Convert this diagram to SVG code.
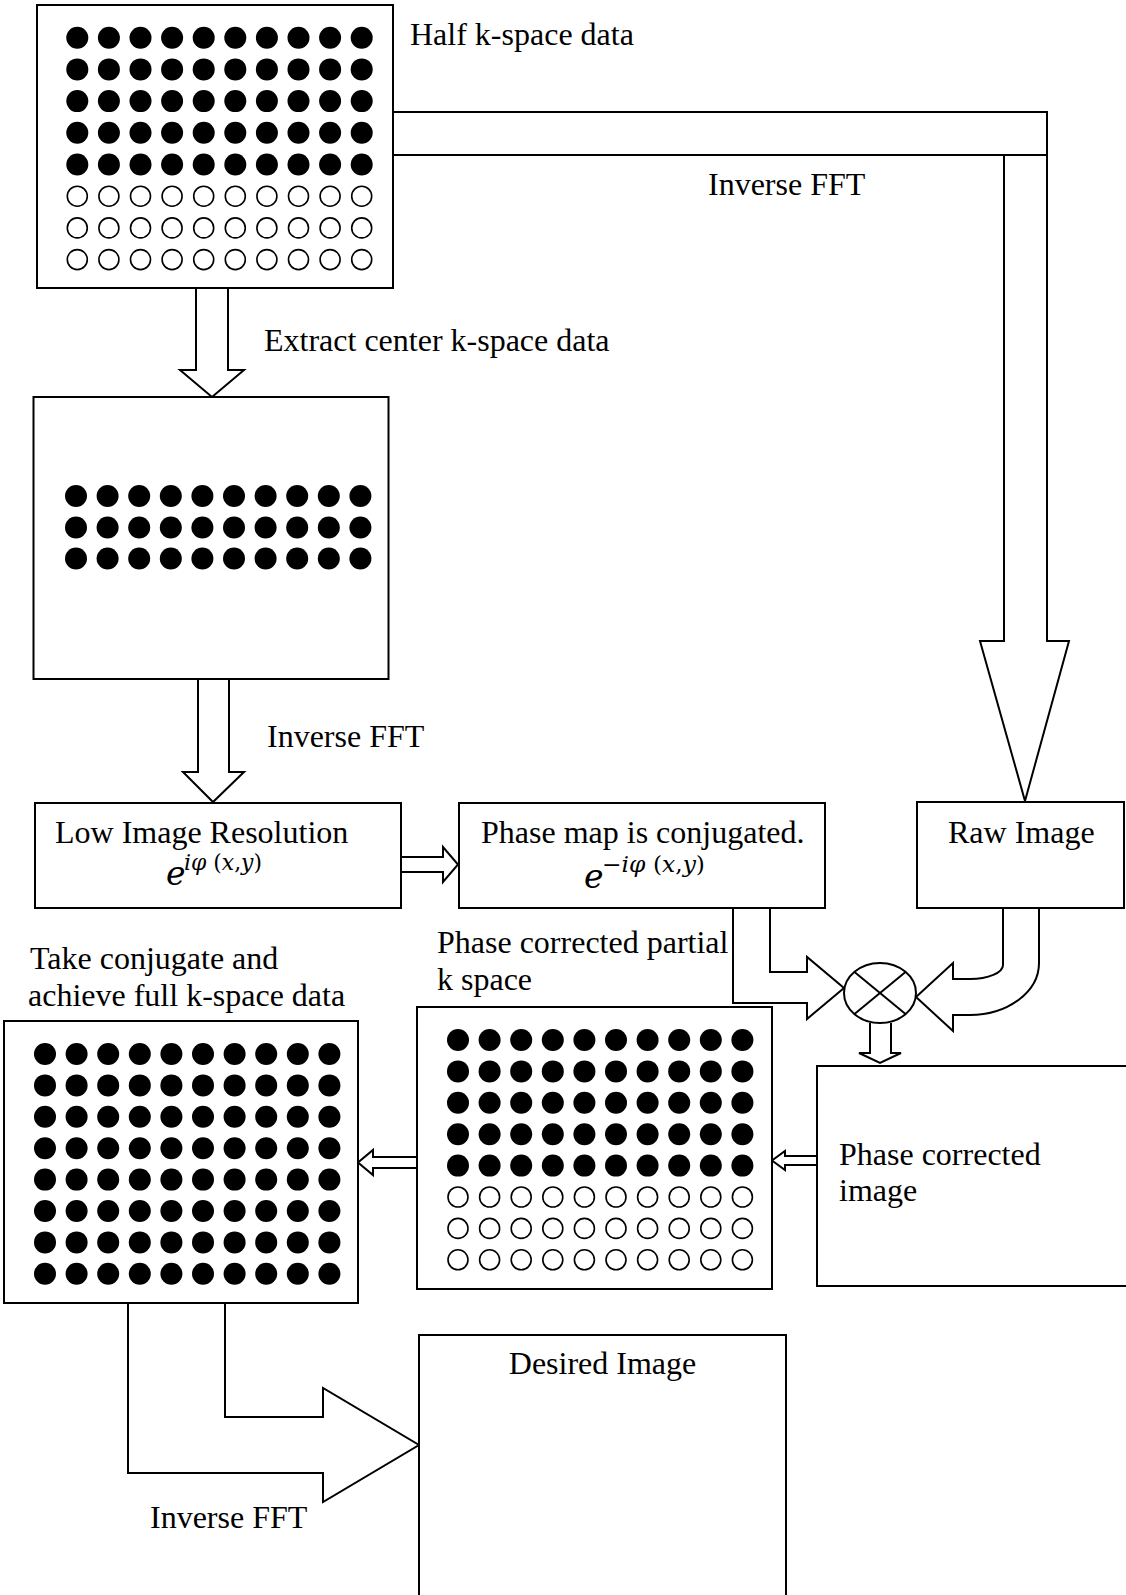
<svg xmlns="http://www.w3.org/2000/svg" xmlns:xlink="http://www.w3.org/1999/xlink" width="1126" height="1595" viewBox="0 0 1126 1595">
<style>
.box{fill:#fff;stroke:#000;stroke-width:2}
.arr{fill:#fff;stroke:#000;stroke-width:2;stroke-linejoin:miter}
.ln{fill:none;stroke:#000;stroke-width:2}
.t{font-family:"Liberation Serif","Times New Roman",serif;font-size:32px;fill:#000}
.m{font-family:"DejaVu Serif",serif;font-style:italic;font-size:33px;fill:#000}
.s{font-family:"DejaVu Serif",serif;font-size:22px;fill:#000}
.i{font-style:italic}
.fd{fill:#000}
.od{fill:#fff;stroke:#000;stroke-width:1.6}
</style>
<defs>
<g id="rowF">
<circle class="fd" cx="0" cy="0" r="11"/><circle class="fd" cx="31.6" cy="0" r="11"/><circle class="fd" cx="63.2" cy="0" r="11"/><circle class="fd" cx="94.8" cy="0" r="11"/><circle class="fd" cx="126.4" cy="0" r="11"/><circle class="fd" cx="158" cy="0" r="11"/><circle class="fd" cx="189.6" cy="0" r="11"/><circle class="fd" cx="221.2" cy="0" r="11"/><circle class="fd" cx="252.8" cy="0" r="11"/><circle class="fd" cx="284.4" cy="0" r="11"/>
</g>
<g id="rowO">
<circle class="od" cx="0" cy="0" r="10"/><circle class="od" cx="31.6" cy="0" r="10"/><circle class="od" cx="63.2" cy="0" r="10"/><circle class="od" cx="94.8" cy="0" r="10"/><circle class="od" cx="126.4" cy="0" r="10"/><circle class="od" cx="158" cy="0" r="10"/><circle class="od" cx="189.6" cy="0" r="10"/><circle class="od" cx="221.2" cy="0" r="10"/><circle class="od" cx="252.8" cy="0" r="10"/><circle class="od" cx="284.4" cy="0" r="10"/>
</g>
</defs>
<rect width="1126" height="1595" fill="#fff"/>

<g id="connectors">
<path class="arr" d="M393,112 H1047 V641 H1069 L1025,801 L980,641 H1004 V155 H393"/>
<line class="ln" x1="1004" y1="155" x2="1047" y2="155"/>
<path class="arr" d="M196,288 V370 H180 L212,397 L244,370 H228 V288"/>
<path class="arr" d="M198,679 V772 H183 L213,802 L244,772 H229 V679"/>
<path class="arr" d="M401,857 H443 V847 L458,864.5 L443,882 V872 H401"/>
<path class="arr" d="M733,908 V1003 H807 V1019 L844,988 L807,957 V972 H770 V908"/>
<path class="arr" d="M1003,908 V965 A33,14 0 0 1 970,979 H953 V963 L916,997 L953,1031 V1015 H970 A69,52 0 0 0 1039,963 V908"/>
<path class="arr" d="M870,1023 V1053 H859 L880,1063 L901,1053 H891 V1023"/>
<path class="arr" d="M817,1156 H785 V1151 L772,1160.5 L785,1170 V1165 H817"/>
<path class="arr" d="M417,1157 H373 V1150 L358,1162.5 L373,1175 V1168 H417"/>
<path class="arr" d="M128,1303 V1473 H323 V1502 L419,1445 L323,1388 V1417 H225 V1303"/>
</g>

<g id="half-kspace">
<rect class="box" x="37" y="5" width="356" height="283"/>
<use xlink:href="#rowF" x="77.3" y="37.7"/>
<use xlink:href="#rowF" x="77.3" y="69.4"/>
<use xlink:href="#rowF" x="77.3" y="101.1"/>
<use xlink:href="#rowF" x="77.3" y="132.8"/>
<use xlink:href="#rowF" x="77.3" y="164.5"/>
<use xlink:href="#rowO" x="77.3" y="196.2"/>
<use xlink:href="#rowO" x="77.3" y="227.9"/>
<use xlink:href="#rowO" x="77.3" y="259.6"/>
</g>
<text class="t" x="410" y="45">Half k-space data</text>
<text class="t" x="708" y="195">Inverse FFT</text>
<text class="t" x="264" y="351">Extract center k-space data</text>

<g id="center-kspace">
<rect class="box" x="33.5" y="397" width="355" height="282"/>
<use xlink:href="#rowF" x="76" y="496"/>
<use xlink:href="#rowF" x="76" y="527.5"/>
<use xlink:href="#rowF" x="76" y="558.5"/>
</g>
<text class="t" x="267" y="747">Inverse FFT</text>

<g id="low-res">
<rect class="box" x="35" y="803" width="366" height="105"/>
<text class="t" x="55" y="843">Low Image Resolution</text>
<text class="m" x="166" y="885">e</text>
<text class="s" x="184" y="870" textLength="78" lengthAdjust="spacingAndGlyphs"><tspan class="i">iφ</tspan> (<tspan class="i">x</tspan>,<tspan class="i">y</tspan>)</text>
</g>

<g id="phase-map">
<rect class="box" x="459" y="803" width="366" height="105"/>
<text class="t" x="481" y="843">Phase map is conjugated.</text>
<text class="m" x="584" y="888">e</text>
<text class="s" x="602" y="872" textLength="103" lengthAdjust="spacingAndGlyphs">−<tspan class="i">iφ</tspan> (<tspan class="i">x</tspan>,<tspan class="i">y</tspan>)</text>
</g>

<g id="raw-image">
<rect class="box" x="917" y="802" width="207" height="106"/>
<text class="t" x="948" y="843">Raw Image</text>
</g>

<g id="multiplier">
<ellipse class="box" cx="880" cy="993" rx="36" ry="30"/>
<line class="ln" x1="854.5" y1="972" x2="905.5" y2="1014"/>
<line class="ln" x1="854.5" y1="1014" x2="905.5" y2="972"/>
</g>

<text class="t" x="437" y="953">Phase corrected partial</text>
<text class="t" x="437" y="990">k space</text>

<g id="partial-kspace">
<rect class="box" x="417" y="1007" width="355" height="282"/>
<use xlink:href="#rowF" x="458" y="1040"/>
<use xlink:href="#rowF" x="458" y="1071.4"/>
<use xlink:href="#rowF" x="458" y="1102.8"/>
<use xlink:href="#rowF" x="458" y="1134.2"/>
<use xlink:href="#rowF" x="458" y="1165.6"/>
<use xlink:href="#rowO" x="458" y="1197"/>
<use xlink:href="#rowO" x="458" y="1228.4"/>
<use xlink:href="#rowO" x="458" y="1259.8"/>
</g>

<g id="phase-corrected-image">
<rect class="box" x="817" y="1066" width="320" height="220"/>
<text class="t" x="839" y="1165">Phase corrected</text>
<text class="t" x="839" y="1201">image</text>
</g>

<text class="t" x="30" y="969">Take conjugate and</text>
<text class="t" x="28" y="1006">achieve full k-space data</text>

<g id="full-kspace">
<rect class="box" x="4" y="1021" width="354" height="282"/>
<use xlink:href="#rowF" x="45" y="1054"/>
<use xlink:href="#rowF" x="45" y="1085.4"/>
<use xlink:href="#rowF" x="45" y="1116.8"/>
<use xlink:href="#rowF" x="45" y="1148.2"/>
<use xlink:href="#rowF" x="45" y="1179.6"/>
<use xlink:href="#rowF" x="45" y="1211"/>
<use xlink:href="#rowF" x="45" y="1242.4"/>
<use xlink:href="#rowF" x="45" y="1273.8"/>
</g>

<g id="desired-image">
<rect class="box" x="419" y="1335" width="367" height="300"/>
<text class="t" x="602.5" y="1374" text-anchor="middle">Desired Image</text>
</g>
<text class="t" x="150" y="1528">Inverse FFT</text>
</svg>
